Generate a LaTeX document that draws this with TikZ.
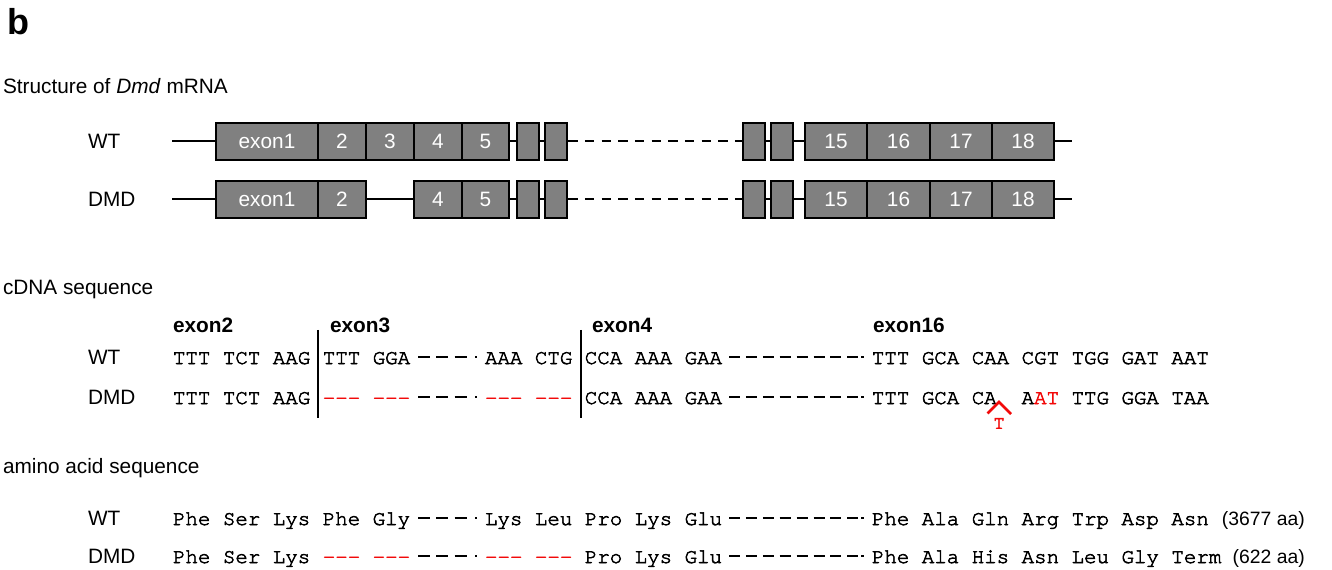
\documentclass[tikz,border=0pt]{standalone}
\usepackage{fontspec}
\setmainfont{Liberation Sans}
\newfontfamily\monof{texgyrecursor-regular.otf}[FakeBold=2.6]
\definecolor{boxgray}{RGB}{128,128,128}
\definecolor{delred}{RGB}{242,10,10}
\newcommand\sz{\fontsize{15.6pt}{18pt}\selectfont}
\begin{document}
\begin{tikzpicture}[x=0.75pt,y=-0.75pt,
  lab/.style={anchor=base west, inner sep=0pt, outer sep=0pt, font=\sz},
  exhead/.style={lab, font=\sz\bfseries},
  seq/.style={anchor=base west, inner sep=0pt, outer sep=0pt, font=\monof\sz},
  del/.style={seq, text=delred},
  exonbox/.style={draw=black, line width=2pt, fill=boxgray, text=white, font=\sz,
     inner sep=0pt, minimum height=27.75pt},
  intron/.style={line width=1.5pt},
  introndash/.style={line width=1.5pt, dash pattern=on 7.125pt off 5.3625pt},
  divider/.style={line width=1.8pt},
  gapdash/.style={line width=1.7pt},
  aalen/.style={anchor=base east, inner sep=0pt, font=\fontsize{14.5pt}{17pt}\selectfont}
]
\useasboundingbox (0,0) rectangle (1332,570);

% ---------- panel letter and title ----------
\node[anchor=base west, inner sep=0pt, font=\fontsize{27pt}{30pt}\selectfont\bfseries] (panel) at (7,35) {b};
\node[lab] (title) at (3,94) {Structure of \textit{Dmd} mRNA};

% ---------- mRNA structure: WT ----------
\node[lab] (mwt) at (88,148.5) {WT};
\coordinate (wL) at (172,141.5);
\coordinate (wR) at (1072,141.5);
\node[exonbox, minimum width=76.5pt] (w1) at (267,141.5) {exon1};
\node[exonbox, minimum width=36pt] (w2) at (342,141.5) {2};
\node[exonbox, minimum width=36pt] (w3) at (390,141.5) {3};
\node[exonbox, minimum width=36pt] (w4) at (438,141.5) {4};
\node[exonbox, minimum width=35.25pt] (w5) at (485.5,141.5) {5};
\node[exonbox, minimum width=16.5pt] (ws1) at (528,141.5) {};
\node[exonbox, minimum width=16.5pt] (ws2) at (556,141.5) {};
\node[exonbox, minimum width=16.5pt] (ws3) at (754,141.5) {};
\node[exonbox, minimum width=16.5pt] (ws4) at (782,141.5) {};
\node[exonbox, minimum width=46.5pt] (w15) at (836,141.5) {15};
\node[exonbox, minimum width=47.25pt] (w16) at (898.5,141.5) {16};
\node[exonbox, minimum width=46.5pt] (w17) at (961,141.5) {17};
\node[exonbox, minimum width=46.5pt] (w18) at (1023,141.5) {18};
\draw[intron] (wL) -- (w1.west);
\draw[intron] (w5.east) -- (ws1.west);
\draw[intron] (ws1.east) -- (ws2.west);
\draw[introndash] (ws2.east) -- (ws3.west);
\draw[intron] (ws3.east) -- (ws4.west);
\draw[intron] (ws4.east) -- (w15.west);
\draw[intron] (w18.east) -- (wR);

% ---------- mRNA structure: DMD ----------
\node[lab] (mdmd) at (88,207) {DMD};
\coordinate (dL) at (172,199.5);
\coordinate (dR) at (1072,199.5);
\node[exonbox, minimum width=76.5pt] (d1) at (267,199.5) {exon1};
\node[exonbox, minimum width=36pt] (d2) at (342,199.5) {2};
\node[exonbox, minimum width=36pt] (d4) at (438,199.5) {4};
\node[exonbox, minimum width=35.25pt] (d5) at (485.5,199.5) {5};
\node[exonbox, minimum width=16.5pt] (ds1) at (528,199.5) {};
\node[exonbox, minimum width=16.5pt] (ds2) at (556,199.5) {};
\node[exonbox, minimum width=16.5pt] (ds3) at (754,199.5) {};
\node[exonbox, minimum width=16.5pt] (ds4) at (782,199.5) {};
\node[exonbox, minimum width=46.5pt] (d15) at (836,199.5) {15};
\node[exonbox, minimum width=47.25pt] (d16) at (898.5,199.5) {16};
\node[exonbox, minimum width=46.5pt] (d17) at (961,199.5) {17};
\node[exonbox, minimum width=46.5pt] (d18) at (1023,199.5) {18};
\draw[intron] (dL) -- (d1.west);
\draw[intron] (d2.east) -- (d4.west);
\draw[intron] (d5.east) -- (ds1.west);
\draw[intron] (ds1.east) -- (ds2.west);
\draw[introndash] (ds2.east) -- (ds3.west);
\draw[intron] (ds3.east) -- (ds4.west);
\draw[intron] (ds4.east) -- (d15.west);
\draw[intron] (d18.east) -- (dR);

% ---------- cDNA sequence ----------
\node[lab] (cdna) at (3,295) {cDNA sequence};
\node[exhead] (hx2) at (173,333) {exon2};
\node[exhead] (hx3) at (330,333) {exon3};
\node[exhead] (hx4) at (592,333) {exon4};
\node[exhead] (hx16) at (873,333) {exon16};
\coordinate (v1t) at (318,330); \coordinate (v1b) at (318,418);
\coordinate (v2t) at (581,330); \coordinate (v2b) at (581,418);
\draw[divider] (v1t) -- (v1b);
\draw[divider] (v2t) -- (v2b);

% WT cDNA
\node[lab] (cwt) at (88,364) {WT};
\node[seq] (cw1) at (173,364) {TTT TCT AAG};
\node[seq] (cw2) at (322.8,364) {TTT GGA};
\node[seq] (cw3) at (485,364) {AAA CTG};
\node[seq] (cw4) at (584.8,364) {CCA AAA GAA};
\node[seq] (cw5) at (871.9,364) {TTT GCA CAA CGT TGG GAT AAT};

% DMD cDNA
\node[lab] (cdm) at (88,404) {DMD};
\node[seq] (cd1) at (173,404) {TTT TCT AAG};
\node[del] (cdx1) at (322.8,404) {-{}-{}-};
\node[del] (cdx2) at (372.7,404) {-{}-{}-};
\node[del] (cdx3) at (485,404) {-{}-{}-};
\node[del] (cdx4) at (534.9,404) {-{}-{}-};
\node[seq] (cd4) at (584.8,404) {CCA AAA GAA};
\node[seq] (cd5) at (871.9,404) {TTT GCA CA};
\node[seq] (cd6) at (1021.6,404) {A{\color{delred}AT} TTG GGA TAA};
\draw[delred, line width=1.9pt] (987.5,413.5) -- (999,402) -- (1011,414);
\node[text=delred, inner sep=0pt, font=\monof\fontsize{14pt}{15pt}\selectfont] (insT) at (999,423.5) {T};

% ---------- amino acid sequence ----------
\node[lab] (aa) at (3,473) {amino acid sequence};
\node[lab] (awt) at (88,525) {WT};
\node[seq] (aw1) at (173,525) {Phe Ser Lys Phe Gly};
\node[seq] (aw2) at (485,525) {Lys Leu Pro Lys Glu};
\node[seq] (aw3) at (871.9,525) {Phe Ala Gln Arg Trp Asp Asn};
\node[aalen] (awl) at (1305,525) {(3677 aa)};

\node[lab] (adm) at (88,563) {DMD};
\node[seq] (ad1) at (173,563) {Phe Ser Lys};
\node[del] (adx1) at (322.8,563) {-{}-{}-};
\node[del] (adx2) at (372.7,563) {-{}-{}-};
\node[del] (adx3) at (485,563) {-{}-{}-};
\node[del] (adx4) at (534.9,563) {-{}-{}-};
\node[seq] (ad2) at (584.8,563) {Pro Lys Glu};
\node[seq] (ad3) at (871.9,563) {Phe Ala His Asn Leu Gly Term};
\node[aalen] (adl) at (1305,563) {(622 aa)};

% ---------- gap dashes (dashes ending with a dot) ----------
\foreach \yy in {357,397,518,556} {
  \foreach \k in {0,1,2} {
    \draw[gapdash] ({418+\k*18.3},\yy) -- ({430+\k*18.3},\yy);
  }
  \fill ({474.5},{\yy-1.3}) rectangle ++(2.8,2.6);
  \foreach \k in {0,...,7} {
    \draw[gapdash] ({729+\k*16.9},\yy) -- ({740+\k*16.9},\yy);
  }
  \fill ({861},{\yy-1.3}) rectangle ++(2.8,2.6);
}
\end{tikzpicture}
\end{document}
